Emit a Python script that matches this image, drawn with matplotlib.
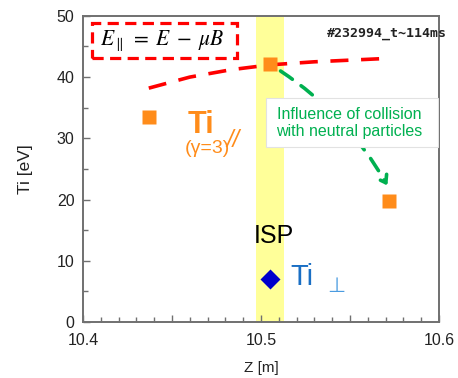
import numpy as np
import matplotlib
matplotlib.use("Agg")
import matplotlib.pyplot as plt
from matplotlib.patches import FancyArrowPatch, Rectangle
from matplotlib.ticker import MultipleLocator, FuncFormatter

plt.rcParams['font.family'] = ['Liberation Sans', 'DejaVu Sans']
plt.rcParams['mathtext.fontset'] = 'stix'

# data
z_par = [10.437, 10.505, 10.572]
ti_par = [33.5, 42.2, 19.8]
z_perp = [10.505]
ti_perp = [7.0]
# red dashed guide (E_par = E - mu B)
z_guide = [10.437, 10.46, 10.483, 10.505, 10.53, 10.567]
ti_guide = [38.2, 40.0, 41.2, 42.0, 42.5, 43.0]
isp_band = (10.4975, 10.513)

orange = '#FF8C1A'
gray = '#707070'

fig = plt.figure(figsize=(4.58, 3.78), dpi=100)
ax = fig.add_axes([0.181, 0.148, 0.7775, 0.81])

ax.axvspan(isp_band[0], isp_band[1], color='#FFFF99', zorder=0, lw=0)

ax.plot(z_guide, ti_guide, color='red', lw=2.6, ls=(0, (5, 3.5)), zorder=2,
        solid_capstyle='butt', dash_capstyle='butt')
ax.plot(z_par, ti_par, 's', color=orange, ms=10.5, mec='none', zorder=3)
ax.plot(z_perp, ti_perp, 'D', color='#0000CC', ms=10, mec='none', zorder=3)

# green arrow: influence of collision
arr = FancyArrowPatch((10.511, 41.0), (10.571, 22.3), connectionstyle='arc3,rad=-0.12',
                      arrowstyle='->,head_length=5,head_width=3.5', color='#00B050',
                      lw=2.6, ls=(0, (4, 3)), zorder=4, shrinkA=0, shrinkB=0)
ax.add_patch(arr)
ax.add_patch(Rectangle((0.514, 0.572), 0.483, 0.16, transform=ax.transAxes,
                       fc='white', ec='#e2e2e2', lw=0.8, zorder=5))
ax.text(0.7486, 0.650, 'Influence of collision\nwith neutral particles', color='#00B050',
        fontsize=11.5, ha='center', va='center', linespacing=1.2, zorder=6,
        transform=ax.transAxes)

# equation box
ax.add_patch(Rectangle((0.0253, 0.8627), 0.4073, 0.1143, transform=ax.transAxes,
                       fc='white', ec='red', lw=2.3, ls=(0, (3.5, 2)), zorder=5))
ax.text(0.2225, 0.918, r'$E_{\parallel}\;=\;E\;-\;\mu B$', fontsize=15.5, ha='center',
        va='center', transform=ax.transAxes, zorder=6)

ax.text(10.537, 47.2, '#232994_t~114ms', family='DejaVu Sans Mono', fontweight='bold',
        fontsize=9.5, ha='left', va='center', color='#222222', clip_on=False)

ax.text(10.459, 30.9, 'Ti', color=orange, fontsize=22, fontweight='bold', ha='left', va='baseline')
ax.text(10.4803, 28.6, '//', color=orange, fontsize=17, style='italic', ha='left', va='baseline')
ax.text(10.4572, 27.6, '(\u03b3=3)', color=orange, fontsize=14, ha='left', va='baseline')

ax.text(10.507, 12.9, 'ISP', color='black', fontsize=18, ha='center', va='baseline')
ax.text(10.5163, 6.0, 'Ti', color='#1A6FC4', fontsize=21, ha='left', va='baseline')
ax.text(10.5425, 4.9, '\u22a5', color='#4A9BE0', fontsize=15, ha='center', va='baseline')

ax.set_xlim(10.4, 10.6)
ax.set_ylim(0, 50)
ax.xaxis.set_major_locator(MultipleLocator(0.05))
ax.xaxis.set_minor_locator(MultipleLocator(0.01))
ax.xaxis.set_major_formatter(FuncFormatter(
    lambda v, p: '%.1f' % v if abs(v * 10 - round(v * 10)) < 1e-6 else ''))
ax.yaxis.set_major_locator(MultipleLocator(10))
ax.yaxis.set_minor_locator(MultipleLocator(5))

for s in ax.spines.values():
    s.set_color(gray)
    s.set_linewidth(1.4)
ax.tick_params(which='both', direction='in', color=gray, width=1.0,
               top=False, right=False, labelsize=11.5, labelcolor='#222222')
ax.tick_params(which='major', length=5)
ax.tick_params(which='minor', length=3.5)
ax.tick_params(axis='x', pad=8)
ax.tick_params(axis='y', pad=6)

ax.set_xlabel('Z [m]', fontsize=11, labelpad=9, color='#222222')
ax.set_ylabel('Ti [eV]', fontsize=12.5, labelpad=17, color='#222222')

fig.savefig('out.png', dpi=100)
